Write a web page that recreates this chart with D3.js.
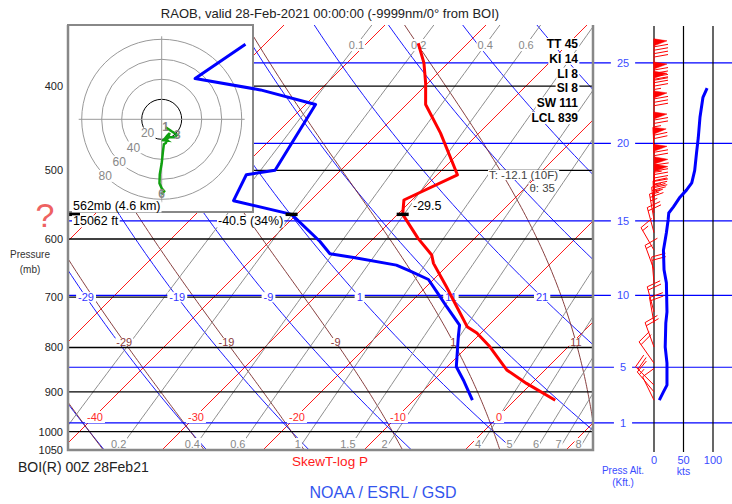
<!DOCTYPE html>
<html><head><meta charset="utf-8">
<script src="https://cdn.jsdelivr.net/npm/d3@7"></script>
<style>body{margin:0;background:#fff;}svg{display:block;font-family:"Liberation Sans",Arial,sans-serif;}</style>
</head><body><svg id="c" width="732" height="504"></svg>
<script>
// ---------------- data ----------------
const tempP = [920, 880, 849, 798, 770, 757, 718, 681, 640, 626, 599, 562, 541, 506, 453, 420, 397, 376, 357];
const tempT = [4.0, -0.5, -3.8, -7.8, -10.4, -12.0, -15.0, -18.0, -21.6, -22.6, -25.6, -29.5, -30.8, -28.0, -33.8, -38.1, -40.2, -42.4, -44.9];
const dewP = [920, 872, 842, 777, 754, 718, 693, 668, 653, 643, 630, 624, 604, 562, 542, 506, 500, 420, 404, 392, 358];
const dewT = [-4.2, -7.1, -9.1, -11.9, -12.9, -16.0, -18.2, -20.5, -23.2, -25.1, -30.1, -32.8, -35.0, -40.5, -47.6, -48.9, -46.5, -49.0, -55.9, -63.5, -61.9];
const windP = [920, 900, 884, 834, 799, 750, 728, 674, 651, 618, 590, 570, 560, 551, 537, 527, 517, 500, 478, 459, 434, 412, 402, 378];
const windDir = [334, 320, 315, 325, 340, 350, 345, 355, 340, 330, 345, 350, 355, 358, 0, 2, 2, 0, 358, 0, 0, 0, 0, 0];
const windSpd = [9, 16, 22, 22, 19, 20, 22, 21, 17, 16, 21, 24, 25, 33, 44, 55, 64, 69, 72, 75, 78, 83, 90, 88];
const hodoTopP = 459;
const hodoMarks = [{t:"1", p:920}, {t:"3", p:884}, {t:"6", p:459}];
const hodoRings = [20, 40, 60, 80];
const pressureTicks = [400, 500, 600, 700, 800, 900, 1000, 1050];
const isobars = [400, 500, 600, 700, 800, 900, 1000];
const heightKft = [1, 5, 10, 15, 20, 25];
const isotherms = [-110,-100,-90,-80,-70,-60,-50,-40,-30,-20,-10,0,10,20,30,40];
const isothermLabels = [-40, -30, -20, -10, 0];
const dryAdiabats = [-49,-39,-29,-19,-9,1,11,21,31,41,51,61];
const dryLabels = [-29, -19, -9, 1, 11, 21];
const moistAdiabats = [-59,-49,-39,-29,-19,-9,1,11,21,31];
const moistLabels = [-29, -19, -9, 1, 11];
const mixRatios = [0.1, 0.2, 0.4, 0.6, 1, 1.5, 2, 4, 5, 6, 7, 8];
const mixLabelsBottom = [0.2, 0.4, 0.6, 1, 1.5, 2, 4, 5, 6, 7, 8];
const mixLabelsTop = [0.1, 0.2, 0.4, 0.6];
const indices = ["TT 45", "KI 14", "LI 8", "SI 8", "SW 111", "LCL 839"];
const speedTicks = [0, 50, 100];
const cursor = {p:562, T:-29.5, Td:-40.5, txtP:"562mb (4.6 km)", txtFt:"15062 ft", txtTd:"-40.5 (34%)", txtT:"-29.5"};
const readout = ["T: -12.1 (10F)", "θ: 35"];

// ---------------- scales ----------------
const svg = d3.select('#c');
const L0 = 68, R0 = 593, T0 = 25, B0 = 450;
const y = d3.scaleLog().domain([1050, 400]).range([450, 450 - 377*Math.log(1050/400)]);
const pTop = y.invert(T0);
const xT = d3.scaleLinear().domain([0, 10]).range([465, 566]);
const skx = (T, p) => xT(T) + (B0 - y(p));
const spx = d3.scaleLinear().domain([0, 100]).range([654, 713]);
const kftToP = h => 1013.25*Math.pow(1 - 2.25577e-5*h*304.8, 5.25588);
const hodoC = [161.7, 119.3];
const hr = d3.scaleLinear().domain([0, 80]).range([0, 80]);

const line = d3.line();
const nS = 80;
const pSamples = d3.range(nS+1).map(i => 1050*Math.pow((pTop*0.97)/1050, i/nS));

// physics helpers for background grid
const dryT = (th, p) => (th+273.15)*Math.pow(p/1000, 0.2857) - 273.15;
function tdFromW(w, p){ const e = w*p/(622+w); const l = Math.log(e/6.112); return 243.5*l/(17.67-l); }
function moistProfile(thw){
  const Rd=287.04, Cp=1005.7, Lv=2.501e6, eps=0.622;
  const f=(T,p)=>{const es=6.112*Math.exp(17.67*(T-273.15)/(T-29.65)); const rs=eps*es/(p-es); return (Rd*T+Lv*rs)/(Cp+Lv*Lv*rs*eps/(Rd*T*T))/p;};
  const step=(T,p,dp)=>{const k1=f(T,p),k2=f(T+dp/2*k1,p+dp/2),k3=f(T+dp/2*k2,p+dp/2),k4=f(T+dp*k3,p+dp);return T+dp/6*(k1+2*k2+2*k3+k4);};
  const up=[[1000,thw+273.15]]; let T=thw+273.15, p=1000;
  while(p>pTop-10){T=step(T,p,-2);p-=2;up.push([p,T]);}
  const dn=[]; T=thw+273.15; p=1000;
  while(p<1050){T=step(T,p,2);p+=2;dn.push([p,T]);}
  return dn.reverse().concat(up).map(d=>[d[0], d[1]-273.15]);
}
function interpT(prof, p){
  for(let i=0;i<prof.length-1;i++){const a=prof[i],b=prof[i+1]; if((a[0]-p)*(b[0]-p)<=0){const t=(p-a[0])/(b[0]-a[0]); return a[1]+t*(b[1]-a[1]);}}
  return null;
}

function label(g, x, yy, txt, o={}){
  const t = g.append('text').attr('x',x).attr('y',yy).text(txt)
    .attr('text-anchor', o.anchor||'middle').attr('dominant-baseline','central')
    .attr('font-size', o.size||11).attr('fill', o.color||'#000').attr('font-weight', o.weight||'normal');
  if(o.bg){
    const b = t.node().getBBox(); const px=o.padx??1, py=o.pady??0;
    g.insert('rect', () => t.node()).attr('x', b.x-px).attr('y', b.y+py).attr('width', b.width+2*px).attr('height', b.height-2*py).attr('fill', '#fff');
  }
  return t;
}

// ---------------- skew-T background ----------------
svg.append('defs').append('clipPath').attr('id','sk').append('rect').attr('x',L0).attr('y',T0).attr('width',R0-L0).attr('height',B0-T0);
const grid = svg.append('g').attr('clip-path','url(#sk)');

isotherms.forEach(T => {
  grid.append('path').attr('d', line([[skx(T,1050), y(1050)], [skx(T,pTop*0.97), y(pTop*0.97)]]))
    .attr('stroke','#ff0000').attr('stroke-width',0.9).attr('fill','none');
});
dryAdiabats.forEach(th => {
  grid.append('path').attr('d', line(pSamples.map(p => [skx(dryT(th,p),p), y(p)])))
    .attr('stroke','#0000ff').attr('stroke-width',0.9).attr('fill','none');
});
const moistProfiles = {};
moistAdiabats.forEach(thw => {
  const prof = moistProfile(thw); moistProfiles[thw] = prof;
  grid.append('path').attr('d', line(prof.filter((d,i)=>i%3===0).map(d => [skx(d[1],d[0]), y(d[0])])))
    .attr('stroke','#7a2a2a').attr('stroke-width',0.9).attr('fill','none');
});
mixRatios.forEach(w => {
  grid.append('path').attr('d', line(pSamples.map(p => [skx(tdFromW(w,p),p), y(p)])))
    .attr('stroke','#808080').attr('stroke-width',0.9).attr('fill','none');
});
isobars.forEach(p => {
  svg.append('line').attr('x1',L0).attr('x2',R0).attr('y1',y(p)).attr('y2',y(p)).attr('stroke','#000').attr('stroke-width',1.3);
});
// pressure-altitude lines
heightKft.forEach(h => {
  const yy = y(kftToP(h));
  svg.append('line').attr('x1',L0).attr('x2',732).attr('y1',yy).attr('y2',yy).attr('stroke','#0000ff').attr('stroke-width',1.2);
});

// ---------------- grid labels ----------------
const lab = svg.append('g');
const yIso = 417;
isothermLabels.forEach(T => label(lab, skx(T, y.invert(yIso))+1, yIso, String(T), {color:'#ff2a2a', size:11, bg:true, padx:2, pady:0}));
dryLabels.forEach(th => label(lab, skx(dryT(th,700),700), y(700), String(th), {color:'#3333ff', size:11, bg:true, padx:2, pady:1}));
const yMoist = 342;
moistLabels.forEach(thw => { const p=y.invert(yMoist); label(lab, skx(interpT(moistProfiles[thw],p),p), yMoist, String(thw), {color:'#8b3a3a', size:11, bg:true, padx:1, pady:2}); });
mixLabelsBottom.forEach(w => label(lab, skx(tdFromW(w,1050),1050), 444, String(w), {color:'#888', size:11, bg:true, padx:1, pady:0}));
const yMixTop = 45;
mixLabelsTop.forEach(w => { const p=y.invert(yMixTop); label(lab, skx(tdFromW(w,p),p), yMixTop, String(w), {color:'#888', size:11, bg:true, padx:1, pady:0}); });

// ---------------- hodograph inset ----------------
const hod = svg.append('g');
hod.append('rect').attr('x',L0).attr('y',T0).attr('width',253-L0).attr('height',212-T0).attr('fill','#fff');
hodoRings.forEach(r => hod.append('circle').attr('cx',hodoC[0]).attr('cy',hodoC[1]).attr('r',hr(r)).attr('fill','none').attr('stroke', r===20?'#000':'#999').attr('stroke-width',1));
hod.append('line').attr('x1',hodoC[0]-83).attr('x2',hodoC[0]+83).attr('y1',hodoC[1]).attr('y2',hodoC[1]).attr('stroke','#999');
hod.append('line').attr('y1',hodoC[1]-83).attr('y2',hodoC[1]+83).attr('x1',hodoC[0]).attr('x2',hodoC[0]).attr('stroke','#999');
hodoRings.forEach(r => label(hod, hodoC[0]-hr(r)*0.707, hodoC[1]+hr(r)*0.707, String(r), {color:'#888', size:12, bg:true, padx:1, pady:1}));
const uv = (d,s) => [hodoC[0] - hr(s)*Math.sin(d*Math.PI/180), hodoC[1] + hr(s)*Math.cos(d*Math.PI/180)];
const hodoPts = windP.map((p,i)=>({p, pt:uv(windDir[i], windSpd[i])})).filter(d => d.p >= hodoTopP);
hod.append('path').attr('d', line(hodoPts.map(d=>d.pt))).attr('fill','none').attr('stroke','#10a010').attr('stroke-width',2.5);
hodoMarks.forEach(m => { const d = hodoPts.find(h=>h.p===m.p); label(hod, d.pt[0], d.pt[1], m.t, {color:'#888', size:12, weight:'bold'}); });
hod.append('rect').attr('x',L0).attr('y',T0).attr('width',253-L0).attr('height',212-T0).attr('fill','none').attr('stroke','#888').attr('stroke-width',2);

// ---------------- profiles ----------------
svg.append('path').attr('d', line(tempP.map((p,i)=>[skx(tempT[i],p), y(p)]))).attr('fill','none').attr('stroke','#ff0000').attr('stroke-width',3).attr('stroke-linejoin','round');
svg.append('path').attr('d', line(dewP.map((p,i)=>[skx(dewT[i],p), y(p)]))).attr('fill','none').attr('stroke','#0000ff').attr('stroke-width',3).attr('stroke-linejoin','round');

// ---------------- cursor readout ----------------
const cy = y(cursor.p);
[[L0+6], [skx(cursor.Td,cursor.p)], [skx(cursor.T,cursor.p)]].forEach(([cx]) => svg.append('rect').attr('x',cx-6).attr('y',cy-1.7).attr('width',12).attr('height',3.4).attr('fill','#000'));
const cur = svg.append('g');
label(cur, 73, cy-8, cursor.txtP, {anchor:'start', size:12.5, bg:true, padx:1, pady:1});
label(cur, 73, cy+7, cursor.txtFt, {anchor:'start', size:12.5, bg:true, padx:1, pady:1});
label(cur, 218, cy+7, cursor.txtTd, {anchor:'start', size:12.5, bg:true, padx:1, pady:1});
label(cur, 413, cy-8, cursor.txtT, {anchor:'start', size:12.5, bg:true, padx:1, pady:1});
label(cur, 558, 175, readout[0], {anchor:'end', size:11.5, color:'#444', bg:true, padx:1, pady:1});
label(cur, 555, 188, readout[1], {anchor:'end', size:11.5, color:'#444', bg:true, padx:1, pady:1});
indices.forEach((t,i) => label(cur, 578, 44 + i*14.8, t, {anchor:'end', size:12, weight:'bold', bg:true, padx:1, pady:1}));

// ---------------- borders & pressure axis ----------------
svg.append('path').attr('d', line([[L0,T0],[L0,B0],[R0,B0],[R0,T0]])).attr('fill','none').attr('stroke','#888').attr('stroke-width',2.5);
pressureTicks.forEach(p => label(svg, 63, y(p), String(p), {anchor:'end', size:11, color:'#222'}));
label(svg, 30, 254, "Pressure", {size:10, color:'#333'});
label(svg, 30, 269, "(mb)", {size:10, color:'#333'});
label(svg, 45, 215, "?", {size:34, color:'#ee6262'});

// ---------------- wind panel ----------------
const wp = svg.append('g');
speedTicks.forEach(s => wp.append('line').attr('x1',spx(s)).attr('x2',spx(s)).attr('y1',26).attr('y2',452).attr('stroke','#000').attr('stroke-width',1.2));
heightKft.forEach(h => label(wp, 623, y(kftToP(h)), String(h), {size:11, color:'#3a4cff', bg:true, padx:6, pady:2}));
speedTicks.forEach(s => label(wp, spx(s), 460, String(s), {size:11, color:'#3a4cff'}));
label(wp, spx(50), 471, "kts", {size:10.5, color:'#3a4cff'});
label(wp, 623, 470, "Press Alt.", {size:10, color:'#3a4cff'});
label(wp, 623, 482, "(Kft.)", {size:10, color:'#3a4cff'});

function barb(g, x0, y0, dir, spd){
  const Ls = 26, a = dir*Math.PI/180;
  const ux = Math.sin(a), uy = -Math.cos(a);
  const px = -uy, py = ux;
  const tx = x0+ux*Ls, ty = y0+uy*Ls;
  const at = d => [tx-ux*d, ty-uy*d];
  g.append('path').attr('d', line([[x0,y0],[tx,ty]])).attr('stroke','#ff0000').attr('fill','none');
  let s = Math.round(spd/5)*5, pos = 0;
  while(s >= 50){
    const b1 = at(pos), b2 = at(pos+7), ap = at(pos+2);
    g.append('path').attr('d', line([b1,[ap[0]+px*13, ap[1]+py*13], b2]) + 'Z').attr('fill','#ff0000').attr('stroke','#ff0000').attr('stroke-width',0.5);
    pos += 8; s -= 50;
  }
  while(s >= 10){
    const b = at(pos);
    g.append('path').attr('d', line([b, [b[0]+px*14+ux*2.5, b[1]+py*14+uy*2.5]])).attr('stroke','#ff0000').attr('fill','none');
    pos += 3.4; s -= 10;
  }
  if(s >= 5){
    if(pos===0) pos = 3.4;
    const b = at(pos);
    g.append('path').attr('d', line([b, [b[0]+px*7+ux*1.2, b[1]+py*7+uy*1.2]])).attr('stroke','#ff0000').attr('fill','none');
  }
}
windP.forEach((p,i) => barb(wp, spx(0), y(p), windDir[i], windSpd[i]));
wp.append('path').attr('d', line(windP.map((p,i)=>({p,s:windSpd[i]})).filter(d=>d.p>=400).map(d=>[spx(d.s), y(d.p)])))
  .attr('fill','none').attr('stroke','#0000ff').attr('stroke-width',3).attr('stroke-linejoin','round');

// ---------------- titles ----------------
label(svg, 330, 13, "RAOB, valid 28-Feb-2021 00:00:00 (-9999nm/0° from BOI)", {size:13, color:'#222'});
label(svg, 18, 467, "BOI(R) 00Z 28Feb21", {anchor:'start', size:14, color:'#222'});
label(svg, 330, 461, "SkewT-log P", {size:13.5, color:'#ff1a1a'});
label(svg, 383, 492, "NOAA / ESRL / GSD", {size:16, color:'#3355ee'});
</script></body></html>
